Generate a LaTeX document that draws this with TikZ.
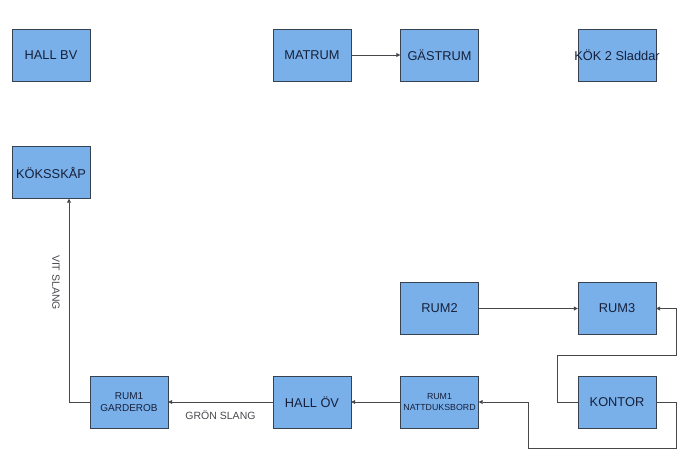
\documentclass[tikz,border=0pt]{standalone}
\usepackage{fontspec}
\setmainfont{Liberation Sans}
\usetikzlibrary{arrows.meta}
\definecolor{roomfill}{RGB}{122,176,234}
\definecolor{roomedge}{RGB}{55,65,80}
\definecolor{roomtext}{RGB}{22,32,58}
\definecolor{pipeline}{RGB}{70,72,76}
\begin{document}
\begin{tikzpicture}[x=1pt, y=-1pt,
    every node/.style={font=\fontsize{12.8}{15}\selectfont, text=roomtext},
    room/.style={draw=roomedge, fill=roomfill, minimum width=78pt, minimum height=52pt, inner sep=0pt, align=center},
    pipe/.style={draw=pipeline, line width=0.8pt},
    flow/.style={pipe, -{Triangle[length=4pt, width=4pt]}},
    hose/.style={font=\fontsize{10.5}{12}\selectfont, text=pipeline}]
  \useasboundingbox (0,0) rectangle (700,468);

  \node[room] (hallbv) at (51,55) {HALL BV};
  \node[room] (matrum) at (312,55) {MATRUM};
  \node[room] (gastrum) at (439.5,55) {GÄSTRUM};
  \node[room, label={center:KÖK 2 Sladdar}] (kok) at (617,55) {};

  \node[room] (koksskap) at (51,172.5) {KÖKSSKÅP};

  \node[room] (rum2) at (439.5,308.5) {RUM2};
  \node[room] (rum3) at (617,308.5) {RUM3};

  \node[room, font=\fontsize{10}{12}\selectfont] (garderob) at (129,402) {RUM1\\GARDEROB};
  \node[room] (hallov) at (312,402) {HALL ÖV};
  \node[room, font=\fontsize{8.8}{10.5}\selectfont] (natt) at (439.5,402) {RUM1\\NATTDUKSBORD};
  \node[room] (kontor) at (617,402) {KONTOR};

  \draw[flow] (matrum.east) -- (gastrum.west);
  \draw[flow] (rum2.east) -- (rum3.west);
  \draw[flow] (natt.west) -- (hallov.east);
  \draw[flow] (hallov.west) -- (garderob.east)
    node[hose, midway, below=5pt] {GRÖN SLANG};
  \draw[flow] (garderob.west) -| ([xshift=18pt]koksskap.south)
    node[hose, pos=0.794, anchor=north, rotate=-90, inner sep=9pt] {VIT SLANG};

  \draw[flow] (kontor.west) -| ++(-20,-47) -| ([xshift=20pt]rum3.east) -- (rum3.east);
  \draw[flow] (kontor.east) -| ++(20,46) -| ([xshift=50pt]natt.east) -- (natt.east);
\end{tikzpicture}
\end{document}
